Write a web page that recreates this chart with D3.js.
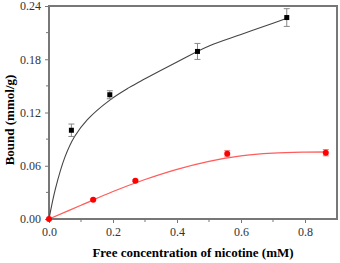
<!DOCTYPE html>
<html>
<head>
<meta charset="utf-8">
<script src="https://cdn.jsdelivr.net/npm/d3@7"></script>
<style>
  body { margin: 0; background: #fff; }
  text { font-family: 'Liberation Serif', 'Times New Roman', serif; }
</style>
</head>
<body>
<div id="chart"></div>
<script>
// measured points (black squares)
const blackX = [0.07, 0.19, 0.464, 0.743]
const blackY = [0.100, 0.140, 0.1888, 0.227]
const blackErr = [0.007, 0.0045, 0.009, 0.010]

// measured points (red circles)
const redX = [0, 0.138, 0.270, 0.557, 0.865]
const redY = [0, 0.0217, 0.0431, 0.0735, 0.0747]
const redErr = [0, 0.001, 0.001, 0.0035, 0.0035]

// fitted curves
const blackFitX = [0, 0.02, 0.05, 0.08, 0.12, 0.19, 0.25, 0.3, 0.4, 0.5, 0.6, 0.7, 0.745]
const blackFitY = [0, 0.034, 0.07, 0.093, 0.112, 0.134, 0.148, 0.158, 0.177, 0.195, 0.208, 0.2205, 0.2265]
const redFitX = [0, 0.1, 0.2, 0.3, 0.4, 0.5, 0.6, 0.7, 0.8, 0.87]
const redFitY = [0, 0.0155, 0.031, 0.0445, 0.056, 0.065, 0.0712, 0.0742, 0.0753, 0.0755]

const xTicks = [0, 0.2, 0.4, 0.6, 0.8]
const xMinor = [0.1, 0.3, 0.5, 0.7]
const yTicks = [0, 0.06, 0.12, 0.18, 0.24]
const yMinor = [0.03, 0.09, 0.15, 0.21]

const width = 340
const height = 263
const margin = { top: 6, right: 3, bottom: 44, left: 49 }

const svg = d3.select('#chart').append('svg')
  .attr('width', width)
  .attr('height', height)

const x = d3.scaleLinear().domain([0, 0.9]).range([margin.left, width - margin.right])
const y = d3.scaleLinear().domain([0, 0.24]).range([height - margin.bottom, margin.top])

const axisColor = '#777'

// frame
svg.append('rect')
  .attr('x', x(0)).attr('y', y(0.24))
  .attr('width', x(0.9) - x(0)).attr('height', y(0) - y(0.24))
  .attr('fill', 'none').attr('stroke', axisColor).attr('stroke-width', 2)

// axes
const xAxis = svg.append('g').attr('transform', `translate(0,${y(0)})`)
  .call(d3.axisBottom(x).tickValues(xTicks).tickFormat(d3.format('.1f')).tickSize(4).tickPadding(4))
xAxis.append('g').selectAll('line').data(xMinor).join('line')
  .attr('x1', d => x(d)).attr('x2', d => x(d)).attr('y1', 0).attr('y2', 3)
  .attr('stroke', axisColor)

const yAxis = svg.append('g').attr('transform', `translate(${x(0)},0)`)
  .call(d3.axisLeft(y).tickValues(yTicks).tickFormat(d3.format('.2f')).tickSize(4).tickPadding(4))
yAxis.append('g').selectAll('line').data(yMinor).join('line')
  .attr('y1', d => y(d)).attr('y2', d => y(d)).attr('x1', 0).attr('x2', -3)
  .attr('stroke', axisColor)

svg.selectAll('.domain').remove()
svg.selectAll('.tick line').attr('stroke', axisColor)
svg.selectAll('.tick text')
  .attr('font-family', "'Liberation Serif', serif")
  .attr('font-size', 12)
  .attr('fill', '#333')

// fit curves
const line = d3.line().x(d => x(d[0])).y(d => y(d[1])).curve(d3.curveCatmullRom.alpha(0.5))

svg.append('path')
  .datum(redFitX.map((v, i) => [v, redFitY[i]]))
  .attr('d', line)
  .attr('fill', 'none').attr('stroke', '#ff5c5c').attr('stroke-width', 1.3)

svg.append('path')
  .datum(blackFitX.map((v, i) => [v, blackFitY[i]]))
  .attr('d', line)
  .attr('fill', 'none').attr('stroke', '#444').attr('stroke-width', 1.1)

// error bars
function errorBars (xs, ys, es, color) {
  const g = svg.append('g').attr('stroke', color).attr('stroke-width', 1)
  xs.forEach((v, i) => {
    if (!es[i]) return
    const cx = x(v)
    const y1 = y(ys[i] + es[i])
    const y2 = y(ys[i] - es[i])
    g.append('line').attr('x1', cx).attr('x2', cx).attr('y1', y1).attr('y2', y2)
    g.append('line').attr('x1', cx - 3).attr('x2', cx + 3).attr('y1', y1).attr('y2', y1)
    g.append('line').attr('x1', cx - 3).attr('x2', cx + 3).attr('y1', y2).attr('y2', y2)
  })
}
errorBars(blackX, blackY, blackErr, '#888')
errorBars(redX, redY, redErr, '#ff7070')

// markers
svg.append('g').selectAll('rect').data(blackX).join('rect')
  .attr('x', (d, i) => x(d) - 2.5)
  .attr('y', (d, i) => y(blackY[i]) - 2.5)
  .attr('width', 5).attr('height', 5)
  .attr('fill', '#000')

svg.append('g').selectAll('circle').data(redX).join('circle')
  .attr('cx', d => x(d))
  .attr('cy', (d, i) => y(redY[i]))
  .attr('r', 3)
  .attr('fill', '#ff0000')

// axis titles
svg.append('text')
  .attr('x', (x(0) + x(0.9)) / 2).attr('y', 257)
  .attr('text-anchor', 'middle')
  .attr('font-size', 13).attr('font-weight', 'bold')
  .text('Free concentration of nicotine (mM)')

svg.append('text')
  .attr('transform', 'translate(14,120) rotate(-90)')
  .attr('text-anchor', 'middle')
  .attr('font-size', 13).attr('font-weight', 'bold')
  .text('Bound (mmol/g)')
</script>
</body>
</html>
